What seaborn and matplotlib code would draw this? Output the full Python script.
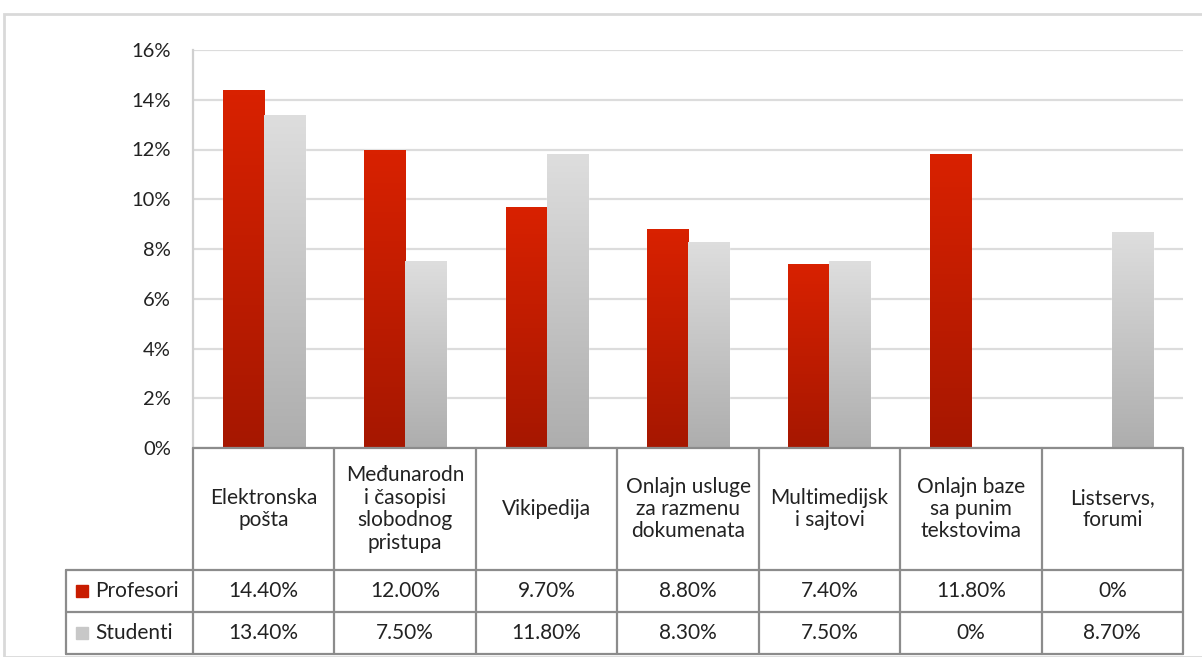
import seaborn as sns
import matplotlib.pyplot as plt
import matplotlib.patches as mpatches
import matplotlib.transforms as mtransforms
import pandas as pd
import numpy as np

categories = ["Elektronska\npošta", "Međunarodn\ni časopisi\nslobodnog\npristupa", "Vikipedija",
              "Onlajn usluge\nza razmenu\ndokumenata", "Multimedijsk\ni sajtovi",
              "Onlajn baze\nsa punim\ntekstovima", "Listservs,\nforumi"]
profesori = [14.4, 12.0, 9.7, 8.8, 7.4, 11.8, 0.0]
studenti = [13.4, 7.5, 11.8, 8.3, 7.5, 0.0, 8.7]
series = ["Profesori", "Studenti"]
y_ticks = [0, 2, 4, 6, 8, 10, 12, 14, 16]

df = pd.DataFrame({
    "Kategorija": categories * 2,
    "Serija": [series[0]] * len(categories) + [series[1]] * len(categories),
    "Vrednost": profesori + studenti,
})

sns.set_style("white")
plt.rcParams["font.family"] = ["Lato", "DejaVu Sans"]

colors = ["#c81c00", "#c8c8c8"]
red_top, red_bot = np.array([0.85, 0.13, 0.0]), np.array([0.65, 0.09, 0.0])
gray_top, gray_bot = np.array([0.87, 0.87, 0.87]), np.array([0.68, 0.68, 0.68])

fig = plt.figure(figsize=(12.02, 6.57), dpi=100)
ax = fig.add_axes([193 / 1202, 1 - 448 / 657, 990 / 1202, 398 / 657])

sns.barplot(data=df, x="Kategorija", y="Vrednost", hue="Serija",
            palette=colors, width=0.58, gap=0, ax=ax,
            saturation=1, legend=False, zorder=3)

n = len(categories)
ax.set_ylim(0, 16)
ax.set_xlim(-0.5, n - 0.5)
ax.set_yticks(y_ticks)
ax.set_yticklabels([f"{t}%" for t in y_ticks], fontsize=14.5, color="#222222")
ax.tick_params(axis="y", length=0, pad=16)
ax.set_xticks([])
ax.set_xlabel("")
ax.set_ylabel("")
ax.yaxis.grid(True, color="#dcdcdc", lw=1.6, zorder=0)
for s in ["top", "right", "bottom"]:
    ax.spines[s].set_visible(False)
ax.spines["left"].set_color("#d0d0d0")
ax.spines["left"].set_linewidth(1.6)

# vertical gradients on bars
grad = np.linspace(0, 1, 256)[:, None]
for i, bar in enumerate(ax.patches):
    h = bar.get_height()
    if h <= 0:
        continue
    top, bot = (red_top, red_bot) if i < n else (gray_top, gray_bot)
    img = top[None, None, :] * (1 - grad[:, :, None]) + bot[None, None, :] * grad[:, :, None]
    x0 = bar.get_x()
    im = ax.imshow(img, extent=[x0, x0 + bar.get_width(), 0, h], aspect="auto",
                   origin="upper", zorder=4)
    im.set_clip_path(bar)
ax.set_xlim(-0.5, n - 0.5)
ax.set_ylim(0, 16)

# data table drawn below the axes
tr = mtransforms.blended_transform_factory(ax.transData, ax.transAxes)
ah = 398.0
col_px = 990 / n
y_head = -122 / ah
y_r1 = -164 / ah
y_r2 = -206 / ah
x_lab = -0.5 - 127 / col_px
line_kw = dict(color="#8c8c8c", lw=1.6, transform=tr, clip_on=False, zorder=5)

ax.plot([-0.5, n - 0.5], [0, 0], **line_kw)
ax.plot([x_lab, n - 0.5], [y_head, y_head], **line_kw)
ax.plot([x_lab, n - 0.5], [y_r1, y_r1], **line_kw)
ax.plot([x_lab, n - 0.5], [y_r2, y_r2], **line_kw)
ax.plot([x_lab, x_lab], [y_head, y_r2], **line_kw)
for i in range(n + 1):
    ax.plot([i - 0.5, i - 0.5], [0, y_r2], **line_kw)

txt_kw = dict(transform=tr, ha="center", va="center", fontsize=15, color="#222222",
              clip_on=False, linespacing=1.15)
for i, cat in enumerate(categories):
    ax.text(i, y_head / 2, cat, **txt_kw)
    ax.text(i, (y_head + y_r1) / 2, f"{profesori[i]:.2f}%" if profesori[i] else "0%", **txt_kw)
    ax.text(i, (y_r1 + y_r2) / 2, f"{studenti[i]:.2f}%" if studenti[i] else "0%", **txt_kw)

for k, (name, yc) in enumerate(zip(series, [(y_head + y_r1) / 2, (y_r1 + y_r2) / 2])):
    ax.plot([x_lab + 15.5 / col_px], [yc], marker="s", ms=9, color=colors[k],
            transform=tr, clip_on=False, zorder=6)
    ax.text(x_lab + 29 / col_px, yc, name, transform=tr, ha="left", va="center",
            fontsize=15, color="#222222", clip_on=False)

# outer frame
fig.patches.append(mpatches.Rectangle((4 / 1202, 0), 1.1, 1 - 14 / 657,
                                      transform=fig.transFigure, fill=False,
                                      edgecolor="#d9d9d9", lw=2))

fig.savefig("out.png", dpi=100)
plt.close()
